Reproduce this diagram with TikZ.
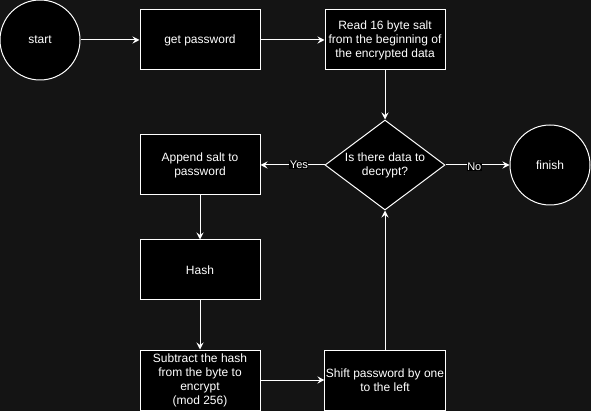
\documentclass[tikz,border=0pt]{standalone}
\usepackage{fontspec}
\setmainfont{Liberation Sans}
\usetikzlibrary{shapes.geometric,arrows.meta}
\definecolor{bg}{HTML}{141414}
\tikzset{
  every node/.style={font=\fontsize{12}{14}\selectfont, text=white},
  box/.style={draw=white, fill=black, line width=1pt, minimum width=120pt, minimum height=60pt, align=center, inner sep=1pt},
  term/.style={circle, draw=white, fill=black, line width=1pt, minimum size=80pt, inner sep=0pt},
  decide/.style={diamond, draw=white, fill=black, line width=1pt, minimum width=120pt, minimum height=90pt, aspect=1.333, inner sep=0pt, align=center},
  conn/.style={draw=white, line width=1pt, -{Stealth[length=7pt,width=7pt,inset=2.5pt]}},
  lbl/.style={fill=black, inner sep=0.5pt, font=\fontsize{11}{13}\selectfont}
}
\begin{document}
\begin{tikzpicture}[x=1pt,y=-1pt]
\fill[bg] (0,0) rectangle (591,411);
\useasboundingbox (0,0) rectangle (591,411);
\node[term] (start) at (40,40) {start};
\node[box] (getpw) at (200,40) {get password};
\node[box] (read) at (385,40) {Read 16 byte salt\\from the beginning of\\the encrypted data};
\node[decide] (dec) at (385,165) {};
\node at (385,165) [align=center] {Is there data to\\decrypt?};
\node[term] (finish) at (550,165) {finish};
\node[box] (append) at (200,165) {Append salt to\\password};
\node[box] (hash) at (200,270) {Hash};
\node[box] (sub) at (200,380) {Subtract the hash\\from the byte to\\encrypt\\(mod 256)};
\node[box] (shift) at (385,380) {Shift password by one\\to the left};
\draw[conn] (start) -- (getpw);
\draw[conn] (getpw) -- (read);
\draw[conn] (read) -- (dec.north);
\draw[conn] (dec.west) -- node[lbl, pos=0.4] {Yes} (append);
\draw[conn] (dec.east) -- node[lbl, pos=0.45, yshift=-2pt] {No} (finish);
\draw[conn] (append) -- (hash);
\draw[conn] (hash) -- (sub);
\draw[conn] (sub) -- (shift);
\draw[conn] (shift) -- (dec.south);
\end{tikzpicture}
\end{document}
